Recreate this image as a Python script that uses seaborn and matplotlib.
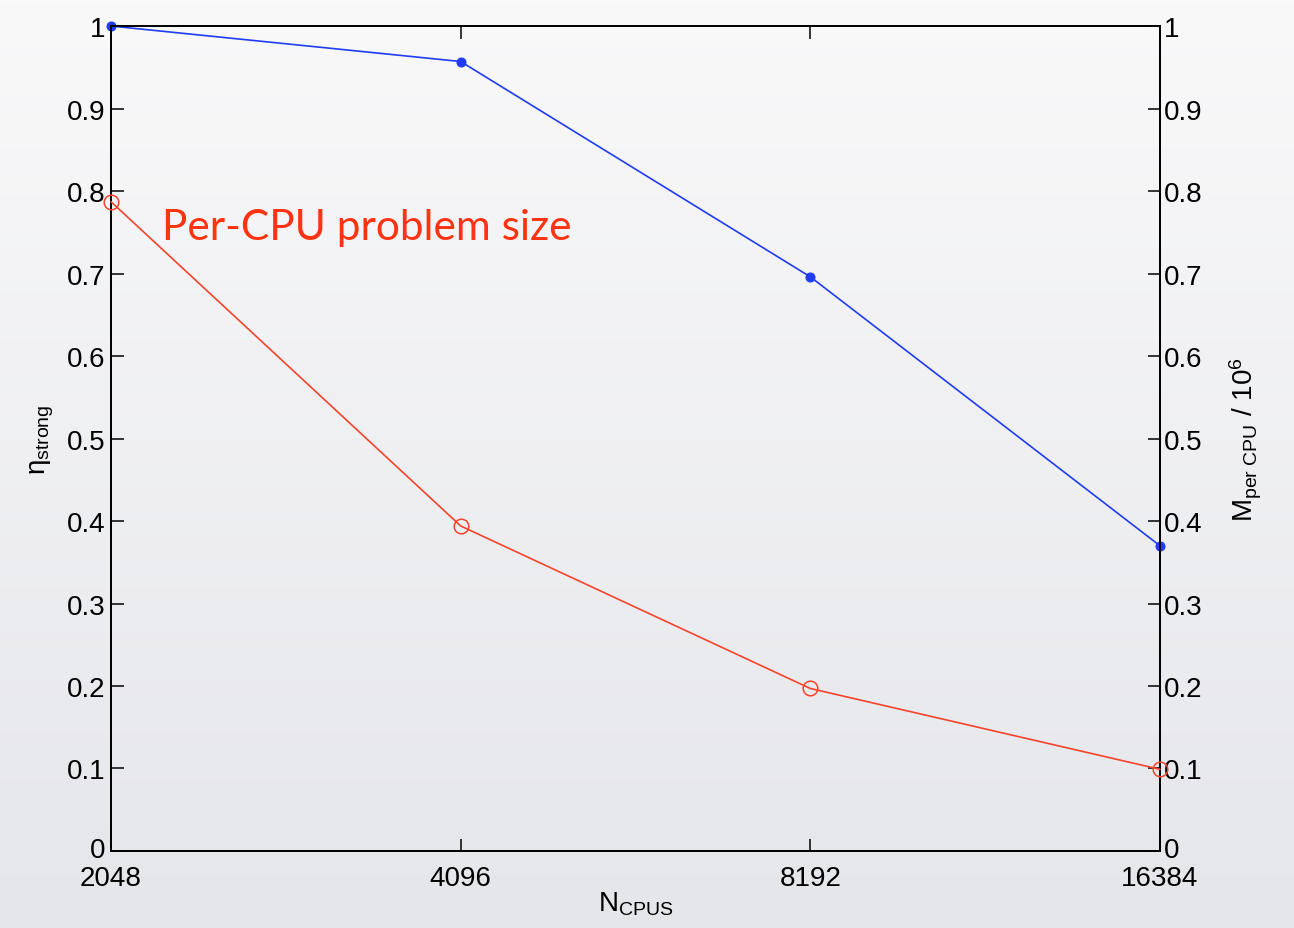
import numpy as np
import pandas as pd
import matplotlib
matplotlib.use("Agg")
import matplotlib.pyplot as plt
import matplotlib.transforms as mtransforms
import seaborn as sns

# Strong-scaling efficiency and per-CPU problem size versus CPU count
n_cpus = [2048, 4096, 8192, 16384]
eta_strong = [1.0, 0.957, 0.696, 0.370]
m_per_cpu = [0.787, 0.394, 0.197, 0.099]
y_ticks = [0, 0.1, 0.2, 0.3, 0.4, 0.5, 0.6, 0.7, 0.8, 0.9, 1]
y_tick_labels = ["0", "0.1", "0.2", "0.3", "0.4", "0.5", "0.6", "0.7", "0.8", "0.9", "1"]

sns.set_theme(style="ticks")
plt.rcParams["font.family"] = ["Liberation Sans", "DejaVu Sans"]
plt.rcParams["mathtext.fontset"] = "custom"
plt.rcParams["mathtext.rm"] = "Liberation Sans"
plt.rcParams["mathtext.it"] = "Liberation Sans"
plt.rcParams["axes.labelcolor"] = "black"
plt.rcParams["text.color"] = "black"

blue = "#1f3cf2"
red = "#f4442c"

fig = plt.figure(figsize=(12.94, 9.29), dpi=100)

# soft vertical slide-style gradient behind the plot
bg = fig.add_axes([0, 0, 1, 1], zorder=-10)
grad = np.linspace(0, 1, 256)[:, None]
top_c = np.array([249, 249, 250]) / 255
bot_c = np.array([229, 230, 234]) / 255
img = top_c[None, None, :] * (1 - grad[..., None]) + bot_c[None, None, :] * grad[..., None]
bg.imshow(img, aspect="auto", extent=[0, 1, 0, 1])
bg.set_axis_off()

ax = fig.add_axes([0.0858, 0.0829, 0.8106, 0.8880])
ax.set_facecolor("none")
ax2 = ax.twinx()

df_eta = pd.DataFrame({"N": n_cpus, "eta": eta_strong})
df_m = pd.DataFrame({"N": n_cpus, "M": m_per_cpu})

sns.lineplot(data=df_eta, x="N", y="eta", ax=ax, color=blue, lw=1.2,
             marker="o", markersize=6.5, markeredgecolor=blue,
             markerfacecolor=blue, clip_on=False, zorder=5)
sns.lineplot(data=df_m, x="N", y="M", ax=ax2, color=red, lw=1.2,
             marker="o", markersize=10.5, markeredgecolor=red,
             markerfacecolor="none", markeredgewidth=1.1, clip_on=False, zorder=5)

for a in (ax, ax2):
    a.set_xscale("log", base=2)
    a.set_xlim(n_cpus[0], n_cpus[-1])
    a.set_ylim(0, 1)
    a.set_yticks(y_ticks)
    a.set_yticklabels(y_tick_labels)
    for s in a.spines.values():
        s.set_color("black")
        s.set_linewidth(1.3)
        s.set_visible(True)

ax.set_xticks(n_cpus)
ax.set_xticklabels([str(n) for n in n_cpus])
ax.xaxis.set_minor_locator(matplotlib.ticker.NullLocator())
ax2.xaxis.set_minor_locator(matplotlib.ticker.NullLocator())
ax.tick_params(axis="both", which="major", direction="in", length=9, width=1.1,
               labelsize=20, colors="black", pad=4, top=True, bottom=True,
               left=True, right=False)
ax.tick_params(axis="x", pad=10)
ax2.tick_params(axis="y", which="major", direction="in", length=9, width=1.1,
                labelsize=20, colors="black", pad=3, left=False, right=True)

# lift the two bottom "0" labels a touch so they clear the x tick labels
lift = mtransforms.ScaledTranslation(0, 3 / 72, fig.dpi_scale_trans)
for a in (ax, ax2):
    lbl = a.get_yticklabels()[0]
    lbl.set_transform(lbl.get_transform() + lift)

ax.set_xlabel(r"N$_{\mathrm{CPUS}}$", fontsize=20, labelpad=-1)
ax.set_ylabel(r"$\eta_{\mathrm{strong}}$", fontsize=20, labelpad=8)
ax2.set_ylabel(r"M$_{\mathrm{per\ CPU}}$ / 10$^{6}$", fontsize=20, labelpad=18)

ax.text(0.0485, 0.742, "Per-CPU problem size", transform=ax.transAxes,
        color="#ff3311", fontsize=30.5, family=["Lato", "DejaVu Sans"],
        ha="left", va="baseline")

fig.savefig("out.png", dpi=100)
